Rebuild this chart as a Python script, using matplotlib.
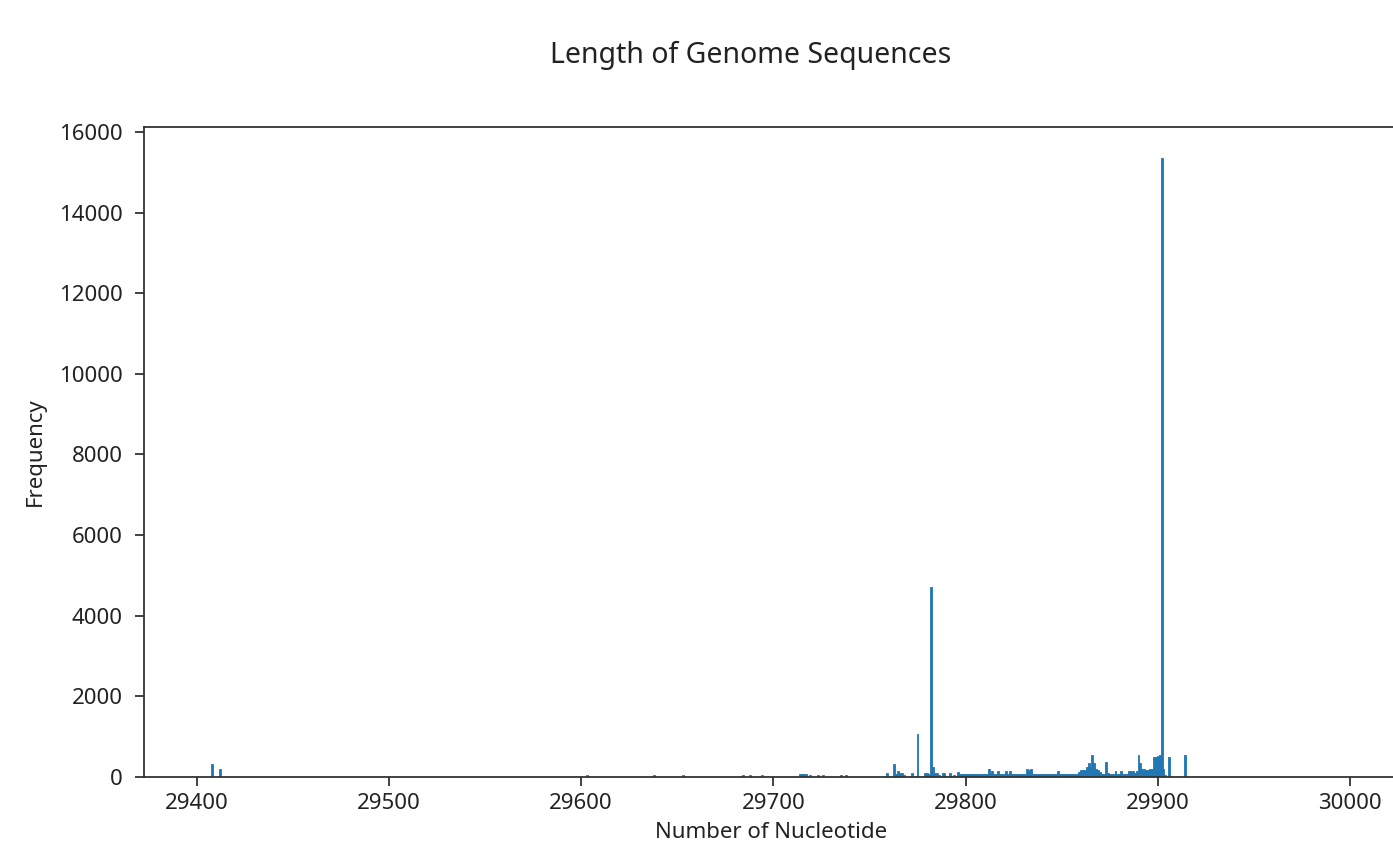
import matplotlib.pyplot as plt

# genome length (number of nucleotides) and how many sequences have it
lengths = [29408, 29412,
           29603, 29638, 29653, 29684, 29688, 29694,
           29714, 29715, 29716, 29717, 29719, 29723, 29726, 29735, 29738,
           29759, 29763, 29764, 29765, 29766, 29767, 29768, 29772, 29775,
           29779, 29780, 29781, 29782, 29783, 29784, 29785, 29786, 29788,
           29789, 29792, 29794, 29796, 29797, 29798, 29799,
           29800, 29801, 29802, 29803, 29804, 29805, 29806, 29807, 29808, 29809,
           29810, 29811, 29812, 29813, 29814, 29815, 29816, 29817, 29818, 29819,
           29820, 29821, 29822, 29823, 29824, 29825, 29826, 29827, 29828, 29829,
           29830, 29831, 29832, 29833, 29834, 29835, 29836, 29837, 29838, 29839,
           29840, 29841, 29842, 29843, 29844, 29845, 29846, 29847, 29848, 29849,
           29850, 29851, 29852, 29853, 29854, 29855, 29856, 29857, 29858, 29859,
           29860, 29861, 29862, 29863, 29864, 29865, 29866, 29867, 29868, 29869,
           29870, 29871, 29872, 29873, 29874, 29875, 29876, 29877, 29878, 29879,
           29880, 29881, 29882, 29883, 29884, 29885, 29886, 29887, 29888, 29889,
           29890, 29891, 29892, 29893, 29894, 29895, 29896, 29897, 29898, 29899,
           29900, 29901, 29902, 29903, 29904, 29906, 29914]
counts = [310, 190,
          40, 50, 50, 50, 45, 50,
          70, 60, 70, 60, 50, 50, 50, 50, 50,
          85, 320, 60, 150, 100, 100, 50, 85, 1070,
          85, 85, 60, 4700, 250, 85, 85, 40, 85,
          85, 85, 40, 125, 70, 70, 60,
          70, 65, 60, 70, 65, 60, 70, 65, 60, 70,
          65, 75, 190, 70, 150, 65, 70, 150, 65, 60,
          70, 150, 65, 150, 70, 60, 65, 70, 60, 65,
          70, 60, 190, 170, 190, 70, 65, 60, 65, 70,
          60, 65, 70, 65, 60, 70, 65, 60, 150, 65,
          70, 60, 65, 70, 60, 65, 70, 60, 65, 110,
          165, 165, 170, 250, 330, 250, 550, 330, 180, 165,
          120, 75, 70, 370, 80, 70, 65, 70, 140, 70,
          65, 140, 70, 65, 70, 140, 130, 140, 80, 140,
          550, 330, 180, 180, 165, 160, 180, 200, 500, 480,
          520, 540, 15370, 180, 30, 480, 550]

plt.rcParams['font.family'] = ['Noto Sans', 'DejaVu Sans']

fig = plt.figure(figsize=(13.93, 8.41), dpi=100)
ax = fig.add_axes([0.1034, 0.0765, 0.9002, 0.7729])

ax.bar(lengths, counts, width=1.0, color='#1f77b4',
       edgecolor='#1f77b4', linewidth=0.6)
ax.set_xlim(29372.6, 30025)
ax.set_ylim(0, 16138)

for s in ax.spines.values():
    s.set_linewidth(1.3)
    s.set_color('#333333')
ax.tick_params(labelsize=16, length=6.5, width=1.3, color='#333333', labelcolor='#222222')
ax.tick_params(axis='y', pad=9)
ax.tick_params(axis='x', pad=5)

ax.set_xlabel('Number of Nucleotide', fontsize=16, color='#222222', labelpad=6)
ax.set_ylabel('Frequency', fontsize=16, color='#222222', labelpad=9.5)
fig.text(0.539, 0.9335, 'Length of Genome Sequences', fontsize=20.5,
         ha='center', va='center', color='#222222')

fig.savefig('out.png', dpi=100)
